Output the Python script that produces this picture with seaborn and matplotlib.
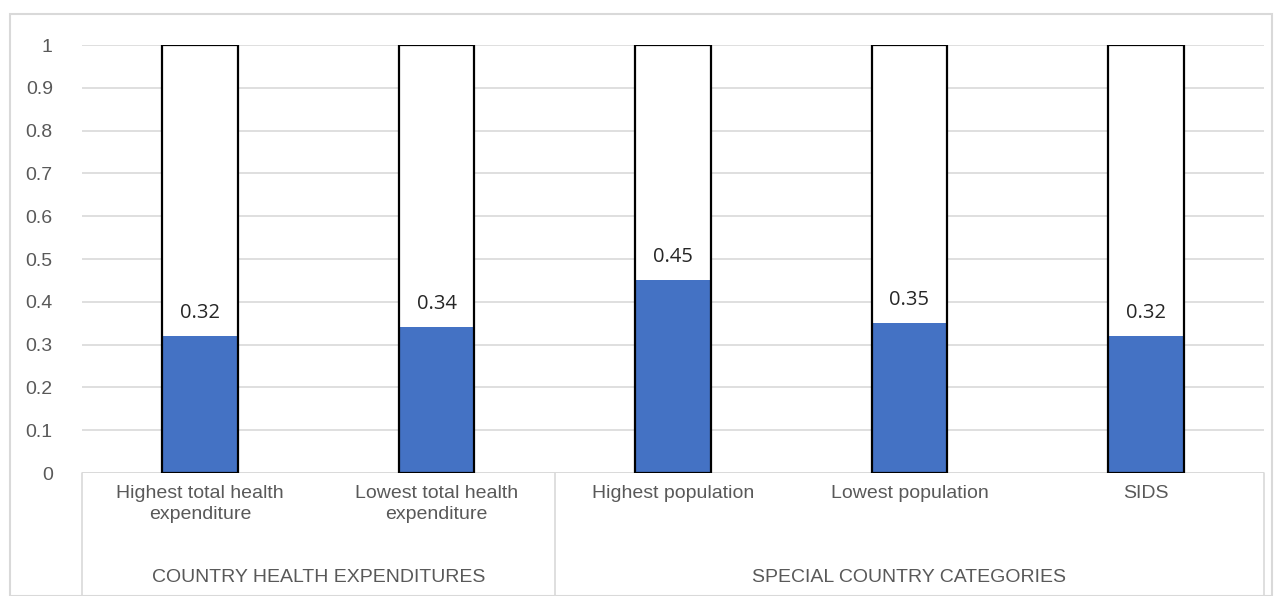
import matplotlib
matplotlib.use("Agg")
import matplotlib.pyplot as plt
import seaborn as sns
import pandas as pd
from matplotlib.patches import Rectangle
from matplotlib.lines import Line2D

# Chart data
categories = ["Highest total health\nexpenditure", "Lowest total health\nexpenditure",
              "Highest population", "Lowest population", "SIDS"]
scores = [0.32, 0.34, 0.45, 0.35, 0.32]
full_scale = [1, 1, 1, 1, 1]
groups = ["COUNTRY HEALTH EXPENDITURES", "SPECIAL COUNTRY CATEGORIES"]
group_sizes = [2, 3]
yticks = [0, 0.1, 0.2, 0.3, 0.4, 0.5, 0.6, 0.7, 0.8, 0.9, 1]
ytick_labels = ["0", "0.1", "0.2", "0.3", "0.4", "0.5", "0.6", "0.7", "0.8", "0.9", "1"]

df = pd.DataFrame({"category": categories, "score": scores, "full": full_scale})

sns.set_theme(style="white")
plt.rcParams["font.family"] = ["Liberation Sans", "DejaVu Sans"]

W, H = 1281, 596
fig = plt.figure(figsize=(W / 100, H / 100), dpi=100)
ax = fig.add_axes([82 / W, 1 - 473 / H, (1264 - 82) / W, (473 - 45) / H])

grid_c = "#d9d9d9"
text_c = "#595959"
bar_w = 0.32

# white full-scale background bars, blue score bars, black outline on top
sns.barplot(data=df, x="category", y="full", color="white", width=bar_w,
            saturation=1, edgecolor="none", ax=ax, zorder=2)
sns.barplot(data=df, x="category", y="score", color="#4472c4", width=bar_w,
            saturation=1, edgecolor="none", ax=ax, zorder=3)
sns.barplot(data=df, x="category", y="full", color="black", width=bar_w,
            fill=False, linewidth=1.6, ax=ax, zorder=4)

for i, v in enumerate(scores):
    ax.text(i, v + 0.055, f"{v:.2f}", ha="center", va="center", fontsize=14.5,
            color="#262626", family=["Open Sans", "DejaVu Sans"], zorder=5)

ax.set_xlim(-0.5, len(categories) - 0.5)
ax.set_ylim(0, 1)
ax.set_yticks(yticks)
ax.set_yticklabels(ytick_labels)
ax.yaxis.grid(True, color=grid_c, linewidth=1.2)
ax.set_axisbelow(True)
for s in ax.spines.values():
    s.set_visible(False)
ax.axhline(0, color=grid_c, linewidth=1.2, zorder=1)
ax.tick_params(axis="y", length=0, pad=21, labelsize=14, labelcolor=text_c)
ax.tick_params(axis="x", length=0, pad=9, labelsize=14, labelcolor=text_c)
for lbl in ax.get_xticklabels():
    lbl.set_linespacing(1.25)
ax.set_xlabel("")
ax.set_ylabel("")

# group labels and separators under the category axis
trans = ax.get_xaxis_transform()
edges = [-0.5]
for n in group_sizes:
    edges.append(edges[-1] + n)
y_bottom = -(H - 473) / (473 - 45)
for e in edges:
    ax.add_line(Line2D([e, e], [0, y_bottom], transform=trans, color=grid_c,
                       linewidth=1.2, clip_on=False))
for g, a, b in zip(groups, edges[:-1], edges[1:]):
    ax.text((a + b) / 2, -104 / (473 - 45), g, transform=trans, ha="center",
            va="center", fontsize=14, color=text_c)

# outer chart border
fig.patches.append(Rectangle((10 / W, 0), (1272 - 10) / W, 1 - 14 / H,
                             transform=fig.transFigure, fill=False,
                             edgecolor="#d9d9d9", linewidth=1.5))

fig.savefig("out.png", dpi=100)
